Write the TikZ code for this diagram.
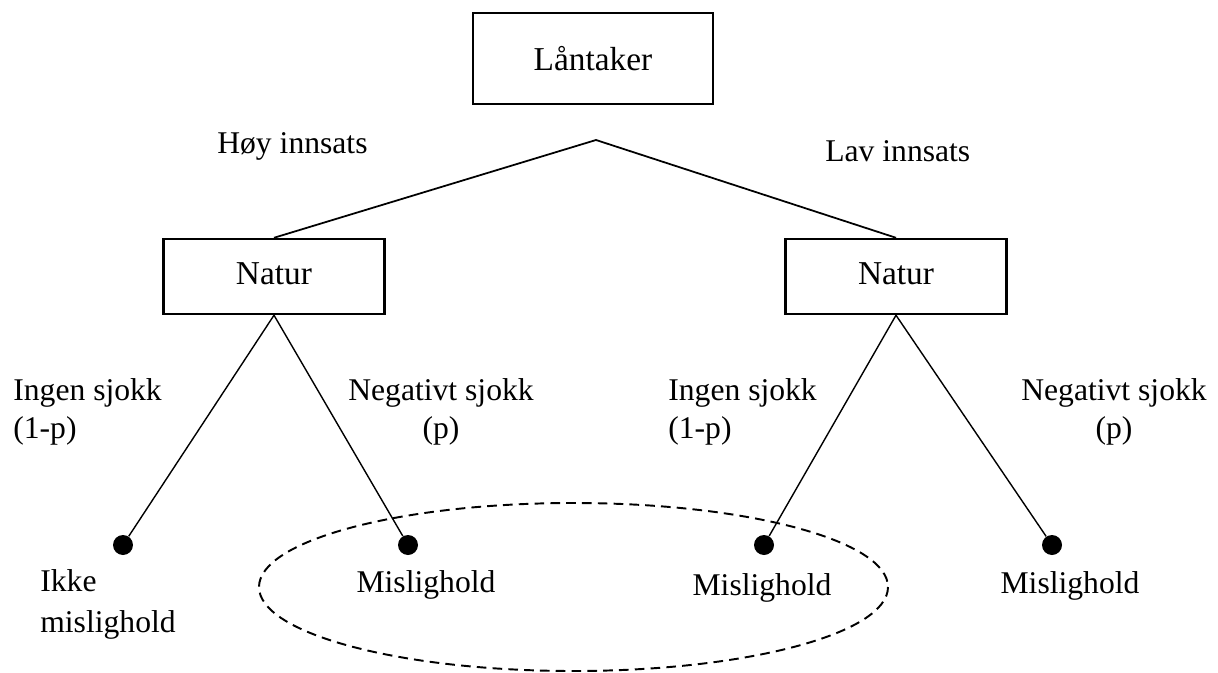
\documentclass[tikz,border=0pt]{standalone}
\usepackage{fontspec}
\setmainfont{Liberation Serif}

\begin{document}
\begin{tikzpicture}[x=0.02cm,y=-0.02cm,
  boks/.style={draw,line width=1.4pt,inner sep=0pt,font=\fontsize{19}{23}\selectfont},
  tekst/.style={inner sep=0pt,font=\fontsize{18}{21.5}\selectfont},
  prikk/.style={circle,fill,inner sep=0pt,minimum size=0.4cm},
  gren/.style={line width=1pt},
  kvist/.style={line width=0.8pt}]
  \def\rx{314.5};
  \def\ry{84};
  \def\bunn{545};

  \useasboundingbox (0,0) rectangle (1218,673);
  \node[boks,minimum width=4.8cm,minimum height=1.82cm] (laan) at (593,58.5) {Låntaker};
  \coordinate (split) at (596,140); % toppunkt for valget
  \node[boks,minimum width=4.42cm,minimum height=1.5cm,text depth=0.3em] (natL) at (274,276.5) {Natur};
  \node[boks,minimum width=4.42cm,minimum height=1.5cm,text depth=0.3em] (natR) at (896,276.5) {Natur};
  \draw[gren] (natL.north) -- (split) -- (natR.north);
  \node[tekst,anchor=base west] (hoy) at (217,153) {Høy innsats};
  \node[tekst,anchor=base west] (lav) at (825,161) {Lav innsats};

  \foreach \n/\x in {1/123,2/408,3/764,4/1052} { % sluttnoder
    \node[prikk] (d\n) at (\x,\bunn) {};
  }
  \draw[kvist] (d1) -- (natL.south) -- (d2);
  \draw[kvist] (d3) -- (natR.south) -- (d4);

  % siste linje ligger paa grunnlinjen
  \node[tekst,anchor=base west,align=left] (ingenL) at (13,438) {Ingen sjokk\\(1-p)};
  \node[tekst,anchor=base,align=center] (negL) at (441,438) {Negativt sjokk\\(p)};
  \node[tekst,anchor=base west,align=left] (ingenR) at (668,438) {Ingen sjokk\\(1-p)};
  \node[tekst,anchor=base,align=center] (negR) at (1114,438) {Negativt sjokk\\(p)};

  \node[tekst,anchor=base west,align=left,font=\fontsize{18}{23}\selectfont] (ikke) at (40,632) {Ikke\\mislighold};
  \node[tekst,anchor=base] (mis2) at (426,592) {Mislighold};
  \node[tekst,anchor=base] (mis3) at (762,595) {Mislighold};
  \node[tekst,anchor=base] (mis4) at (1070,593) {Mislighold};

  \draw[line width=1.1pt,dash pattern=on 5.5pt off 3.5pt] (573.5,587) ellipse [x radius=\rx, y radius=\ry]; % samme utfall
\end{tikzpicture}
\end{document}
